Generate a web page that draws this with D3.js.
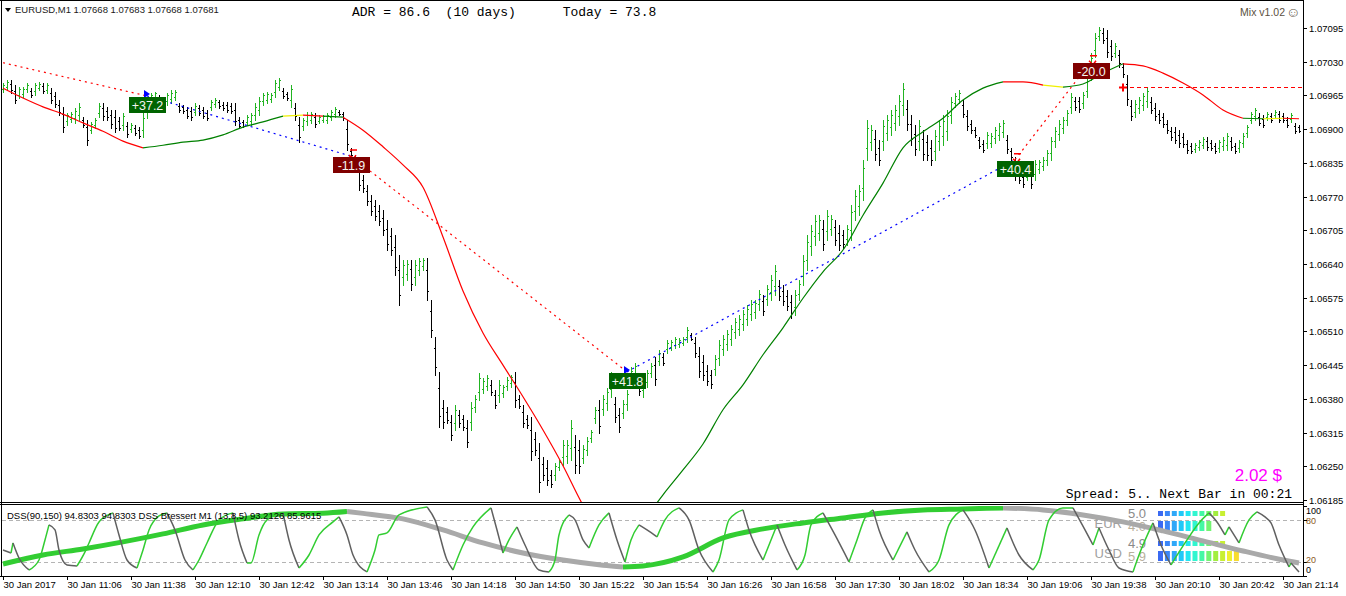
<!DOCTYPE html>
<html><head><meta charset="utf-8">
<script src="https://cdn.jsdelivr.net/npm/d3@7"></script>
<style>
body{margin:0;background:#fff;}
svg{display:block;}
text{font-family:"Liberation Sans",Arial,sans-serif;}
.mono{font-family:"Liberation Mono","Courier New",monospace;white-space:pre;}
</style></head><body>
<svg id="c" width="1346" height="596"></svg>
<script>
// ---------------- DATA ----------------
const symbolTitle = "EURUSD,M1  1.07668 1.07683 1.07668 1.07681";
const adrText = "ADR = 86.6  (10 days)      Today = 73.8";
const spreadText = "Spread: 5.. Next Bar in 00:21";
const profitText = "2.02 $";
const versionText = "Mix v1.02";
const dssLabel = "DSS(90,150) 94.8303 94.8303  DSS Bressert M1 (13,8,5) 93.2126 85.9615";

const startTime = [2017, 0, 30, 10, 34];   // 30 Jan 2017 10:34
const barStepMinutes = 2;
const priceBase = 1.06;                      // bar prices in points above 1.06000
const barHigh = [
989,995,995,985,981,981,989,979,989,991, 989,989,979,972,956,943,931,933,941,950,
923,918,914,922,950,950,943,937,937,923, 931,914,912,908,904,931,956,970,972,966,
962,970,975,975,950,947,943,943,950,947, 943,937,956,960,956,952,952,950,950,923,
918,927,931,950,962,970,972,970,995,999, 979,972,985,950,923,922,933,933,931,927,
927,931,937,943,937,933,918,864,850,831, 812,792,773,763,754,744,725,709,696,657,
648,648,648,648,652,652,652,571,499,432, 378,364,349,368,359,349,339,374,387,430,
420,426,416,397,416,407,422,426,432,387, 368,349,345,316,295,268,262,243,256,262,
301,301,339,310,301,291,306,320,364,378, 387,401,432,384,362,378,397,441,449,426,
430,436,449,461,474,468,493,493,499,497, 499,519,507,499,480,465,445,436,465,493,
503,513,522,536,542,551,561,571,571,590, 580,600,619,638,609,600,590,580,590,609,
657,696,715,734,734,725,744,734,725,715, 706,715,754,783,792,841,918,908,898,879,
918,927,937,947,966,989,956,927,908,918, 898,889,879,898,918,927,937,962,970,975,
956,937,918,904,885,879,894,893,904,912, 918,889,864,846,821,815,821,827,841,841,
846,860,885,904,918,923,937,970,962,962, 972,1001,1047,1085,1097,1095,1091,1072,1066,1053,
1028,1004,956,956,962,970,981,962,950,937, 931,918,904,904,898,893,879,873,873,879,
885,885,879,873,879,885,893,885,873,879, 893,908,933,941,931,927,933,931,937,935,
931,923,931,912,908];
const barLow = [
972,975,970,950,960,962,972,962,966,975, 970,970,950,943,927,894,908,914,912,918,
904,869,893,902,923,918,918,902,894,898, 898,885,894,889,883,885,922,950,956,941,
941,947,950,956,933,931,922,918,927,927, 922,918,937,943,941,937,933,931,908,902,
904,908,908,918,927,947,950,952,962,975, 960,956,943,918,875,898,908,912,904,912,
914,912,918,923,927,918,860,846,821,783, 779,754,734,725,715,696,667,657,619,561,
600,609,590,600,619,628,571,499,426,326, 324,333,301,320,326,320,287,320,355,378,
391,397,387,362,374,384,397,403,364,362, 326,324,262,272,200,224,214,210,224,243,
253,256,262,237,237,256,272,297,333,314, 349,359,384,335,316,343,359,403,416,387,
384,403,422,407,445,445,468,474,478,480, 484,490,493,461,422,416,407,401,426,445,
465,474,484,497,503,513,522,532,536,551, 542,561,571,580,571,561,551,536,542,571,
600,628,657,677,686,667,686,696,677,667, 671,677,686,725,734,763,841,860,841,831,
860,879,889,898,908,927,898,869,850,860, 841,841,831,841,860,869,879,912,943,950,
923,898,893,885,864,856,864,866,873,879, 885,854,841,802,796,788,802,787,802,815,
821,831,841,866,879,893,908,931,937,933, 941,962,995,1039,1072,1066,1039,1033,1039,1020,
1001,947,918,923,931,937,943,931,918,912, 904,893,879,873,866,866,854,854,856,860,
864,860,860,854,856,860,860,860,854,856, 866,885,912,918,908,904,918,914,922,914,
914,904,914,893,894];

// moving average (points above 1.06000), every 10 minutes, last at 648
const maMinutes = d3.range(0, 641, 10).concat([648]);
const maValues = [979,960,943,929,912,896,877,864,869,875,879,889,904,914,925,927,925,923,898,866,
831,788,692,588,507,445,384,320,251,175,117,92,143,195,243,293,359,407,465,517,
574,625,667,734,796,864,895,921,956,979,991,991,985,981,987,1008,1026,1022,1008,989,
966,937,921,920,921,920];
const maState = "rrrrrrr"+"ggggggg"+"y"+"r"+"g"+"rrrrrrrrrrrrr"+"r"+"g"+"gggggggggggggggggg"+"rr"+"y"+"ggg"+"r"+"rrrrr"+"g"+"y"+"r";

// trades: minutes & price points
const tradeMinutes = [0, 72, 174, 312, 506, 544];
const tradePrices  = [1028, 964, 848, 432, 841, 1030];
const tradeSide    = ["sell", "buy", "sell", "buy", "sell"];
const tradeResults = ["+37.2", "-11.9", "+41.8", "+40.4", "-20.0"];
const openMinute = 560, openPrice = 982;

const priceTicks = [1.07095,1.07030,1.06965,1.06900,1.06835,1.06770,1.06705,1.06640,1.06575,1.06510,1.06445,1.06380,1.06315,1.06250,1.06185];
const timeTickMinutes = d3.range(0, 641, 32);
const timeTickLabels = ["30 Jan 2017","30 Jan 11:06","30 Jan 11:38","30 Jan 12:10","30 Jan 12:42","30 Jan 13:14","30 Jan 13:46","30 Jan 14:18","30 Jan 14:50","30 Jan 15:22","30 Jan 15:54","30 Jan 16:26","30 Jan 16:58","30 Jan 17:30","30 Jan 18:02","30 Jan 18:34","30 Jan 19:06","30 Jan 19:38","30 Jan 20:10","30 Jan 20:42","30 Jan 21:14"];

// DSS(90,150) slow line
const slowMinutes = [0,20,40,60,80,100,120,140,160,172,180,200,220,240,260,280,300,310,320,340,360,380,400,420,440,460,480,500,520,540,560,580,600,620,640,648];
const slowValues = [16.7,29.6,38.3,48.4,59.9,72.8,81.5,88.6,89.6,92.0,89.4,81.5,65.6,46.9,32.5,22.4,15.0,12.4,13.8,26.8,54.1,67.1,75.7,82.9,90.1,94.4,95.8,97.3,94.4,87.2,77.2,64.2,49.8,35.4,22.4,18.1];

// DSS Bressert fast line
const fastMinutes = [0,4,5,8,13,18,21,23,26,28, 32,37,41,43,48,55,58,62,67,70, 73,78,82,86,91,95,98,102,108,115,
118,122,124,128,132,140,143,148,153,158, 165,168,172,175,182,186,188,192,198,212, 216,222,225,230,235,244,247,250,253,257,
261,268,273,276,278,283,286,290,293,298, 303,307,311,314,318,322,327,331,338,343, 348,355,358,363,370,373,380,387,391,397,
401,404,410,416,423,427,431,435,438,445, 452,456,463,468,473,480,486,493,502,508, 515,518,523,530,535,541,545,548,553,558,
565,568,575,579,584,591,598,603,607,611, 613,618,623,627,631,634,638,643,644,648];
const fastValues = [36.8,32.5,46.9,25.3,8.1,22.4,51.2,72.8,65.6,36.8, 15.3,13.8,34,46.9,77.1,90.1,58.4,22.4,10.9,36.8,
65.6,85.8,90.1,65.6,22.4,8.1,22.4,46.9,80,90.1, 51.2,18.1,18.1,58.4,80,90.1,51.2,10.9,29.6,58.4,
77.1,84.3,58.4,29.6,5.2,36.8,58.4,61.3,87.2,98.7, 80,22.4,8.1,44,69.9,97.3,65.6,32.5,51.2,69.9,
44,8.1,5.2,22.4,58.4,87.2,80,51.2,39.7,72.8, 90.1,51.2,19.6,51.2,72.8,65.6,55.5,80,97.3,80,
36.8,5.2,22.4,80,94.4,65.6,22.4,72.8,44,8.1, 29.6,72.8,90.1,58.4,19.6,51.2,82.9,94.4,65.6,22.4,
62.8,36.8,5.2,22.4,72.8,94.4,65.6,10.9,68.5,29.6, 8.1,22.4,80,97.3,97.3,65.6,44,68.5,36.8,10.9,
5.2,29.6,75.7,44,15.3,46.9,75.7,90.1,77.1,58.4, 69.9,46.9,80,91.5,84.3,75.7,44,12.4,18.1,5.2];

const levelTicks = [100, 80, 20, 0];
const levelLines = [80, 20];

// currency strength
const currencies = ["EUR", "USD"];
const strengthA = [5.0, 4.9];
const strengthB = [4.0, 5.9];

// ---------------- LAYOUT ----------------
const svg = d3.select("#c");
const axisX = 1303, leftX = 1, mainTop = 1, mainBot = 502, indTop = 505, indBot = 576;
const t0 = new Date(startTime[0], startTime[1], startTime[2], startTime[3], startTime[4]);
const T = m => new Date(t0.getTime() + m * 60000);
const x = d3.scaleTime().domain([T(0), T(650)]).range([3, 1303]);
const y = d3.scaleLinear().domain([priceTicks[priceTicks.length - 1], priceTicks[0]]).range([500, 28]);
const P = pts => priceBase + pts / 1e5;
const yi = d3.scaleLinear().domain([0, 100]).range([575.6, 506]);

const defs = svg.append("defs");
defs.append("clipPath").attr("id", "cm").append("rect").attr("x", leftX + 1).attr("y", mainTop).attr("width", axisX - leftX - 1).attr("height", mainBot - mainTop);
defs.append("clipPath").attr("id", "ci").append("rect").attr("x", leftX + 1).attr("y", indTop + 1).attr("width", axisX - leftX - 1).attr("height", indBot - indTop - 1);

const gMain = svg.append("g").attr("clip-path", "url(#cm)");
const gInd = svg.append("g").attr("clip-path", "url(#ci)");

// ---------------- MAIN PANEL ----------------
const barUp = "#22b422", barDown = "#000";
const gb = gMain.append("g").attr("shape-rendering", "crispEdges");
barHigh.forEach((h, i) => {
  const l = barLow[i];
  const mid = (h + l) / 2;
  const prevMid = i ? (barHigh[i - 1] + barLow[i - 1]) / 2 : mid;
  const up = mid >= prevMid;
  const xp = Math.round(x(T(i * barStepMinutes))) + 0.5;
  const yh = Math.round(y(P(h))), yl = Math.round(y(P(l)));
  const col = up ? barUp : barDown;
  const o = up ? l + (h - l) * 0.3 : h - (h - l) * 0.3;
  const c = up ? h - (h - l) * 0.2 : l + (h - l) * 0.2;
  const yo_ = Math.round(y(P(o))) + 0.5, yc_ = Math.round(y(P(c))) + 0.5;
  gb.append("path").attr("d", `M${xp},${yh}V${yl + 1}M${xp - 1.5},${yo_}H${xp}M${xp},${yc_}H${xp + 1.5}`)
    .attr("stroke", col).attr("stroke-width", 1).attr("fill", "none");
});

// colored runs helper
function drawRuns(g, times, vals, ys, colorAt, width, curve) {
  let start = 0;
  for (let i = 0; i < vals.length - 1; i++) {
    const c = colorAt(i);
    const last = i === vals.length - 2 || colorAt(i + 1) !== c;
    if (last) {
      const pts = d3.range(start, i + 2).map(k => [x(T(times[k])), ys(vals[k])]);
      g.append("path").attr("d", d3.line().curve(curve)(pts)).attr("fill", "none")
        .attr("stroke", c).attr("stroke-width", width).attr("stroke-linejoin", "round");
      start = i + 1;
    }
  }
}

// moving average
const maCol = { r: "#ff0000", g: "#008000", y: "#f0f000" };
drawRuns(gMain, maMinutes, maValues, v => y(P(v)), i => maCol[maState[i]], 1.2, d3.curveMonotoneX);

// trade lines
const gt = gMain.append("g");
for (let i = 0; i < tradeMinutes.length - 1; i++) {
  gt.append("line")
    .attr("x1", x(T(tradeMinutes[i]))).attr("y1", y(P(tradePrices[i])))
    .attr("x2", x(T(tradeMinutes[i + 1]))).attr("y2", y(P(tradePrices[i + 1])))
    .attr("stroke", tradeSide[i] === "buy" ? "#0000ff" : "#ff0000")
    .attr("stroke-width", 1.2).attr("stroke-dasharray", "2,4");
}
// open position line
const yo = Math.round(y(P(openPrice))) + 0.5;
gt.append("line").attr("x1", x(T(openMinute))).attr("x2", axisX).attr("y1", yo).attr("y2", yo)
  .attr("stroke", "#ff0000").attr("stroke-dasharray", "4,3");
const xo = x(T(openMinute));
gt.append("path").attr("d", `M${xo - 4},${yo}H${xo + 4}M${xo},${yo - 4}V${yo + 4}`).attr("stroke", "#ff0000").attr("stroke-width", 2);

// markers at trade points
for (let i = 1; i < tradeMinutes.length; i++) {
  const px = x(T(tradeMinutes[i])), py = y(P(tradePrices[i]));
  if (i === 1 || i === 3) {
    gt.append("path").attr("d", `M${px - 3},${py - 6}L${px + 3},${py - 2}L${px - 3},${py + 2}Z`).attr("fill", "#0000ff");
  } else {
    gt.append("path").attr("d", `M${px - 1},${py - 6}H${px + 6}M${px - 2},${py - 1}L${px + 2},${py + 3}L${px + 5},${py - 1}`)
      .attr("stroke", "#ff0000").attr("stroke-width", 1.5).attr("fill", "none");
  }
}
// result labels
const gl = gMain.append("g");
tradeResults.forEach((r, k) => {
  const i = k + 1;
  const px = x(T(tradeMinutes[i])), py = y(P(tradePrices[i]));
  const pos = r[0] === "+";
  const w = r.length > 4 ? 37 : 34;
  gl.append("rect").attr("x", Math.round(px - 18)).attr("y", Math.round(py + 1)).attr("width", w).attr("height", 16)
    .attr("fill", pos ? "#006400" : "#800000");
  gl.append("text").attr("x", Math.round(px - 18) + w / 2).attr("y", Math.round(py + 1) + 12.5)
    .attr("text-anchor", "middle").attr("font-size", 12.5).attr("fill", "#f4f4f0").text(r);
});

// texts on main panel
svg.append("path").attr("d", "M5,8H11L8,12Z").attr("fill", "#000");
svg.append("text").attr("x", 15).attr("y", 13).attr("font-size", 9.5).attr("fill", "#1a1a1a").text(symbolTitle);
svg.append("text").attr("class", "mono").attr("x", 352).attr("y", 16).attr("font-size", 13).attr("fill", "#000").text(adrText);
svg.append("text").attr("x", 1285).attr("y", 16).attr("text-anchor", "end").attr("font-size", 10.5).attr("fill", "#5a5040").text(versionText);
svg.append("text").attr("x", 1286).attr("y", 17).attr("font-size", 14).attr("fill", "#5a5040").attr("font-family", "DejaVu Sans").text("\u263A");
svg.append("text").attr("x", 1282).attr("y", 481).attr("text-anchor", "end").attr("font-size", 17).attr("fill", "#ff00ff").text(profitText);
svg.append("text").attr("class", "mono").attr("x", 1292).attr("y", 498).attr("text-anchor", "end").attr("font-size", 13).attr("fill", "#000").text(spreadText);

// ---------------- INDICATOR PANEL ----------------
svg.append("text").attr("x", 7).attr("y", 518.5).attr("font-size", 9.5).attr("fill", "#000").text(dssLabel);
gInd.selectAll("line.lvl").data(levelLines).join("line").attr("class", "lvl")
  .attr("x1", leftX + 1).attr("x2", axisX).attr("y1", d => Math.round(yi(d)) + 0.5).attr("y2", d => Math.round(yi(d)) + 0.5)
  .attr("stroke", "#b4b4b4").attr("stroke-dasharray", "4,3").attr("shape-rendering", "crispEdges");

// currency strength blocks
const blockColors = ["#3a6af2","#3b86f7","#2fa8f8","#20c8f8","#22e6f2","#30f6d0","#44f8a4","#72f470","#a2ee40","#c8f032","#eef030","#f8dc30"];
const bx = d3.scaleLinear().domain([0, 12]).range([1158, 1158 + 12 * 6.9]);
const rowsA = [511, 541], rowsB = [521, 551];
currencies.forEach((cur, k) => {
  const nA = Math.round(strengthA[k] * 2), nB = Math.round(strengthB[k] * 2);
  d3.range(nA).forEach(j => gInd.append("rect").attr("x", bx(j)).attr("y", rowsA[k]).attr("width", 5).attr("height", 5).attr("fill", blockColors[j]));
  d3.range(nB).forEach(j => gInd.append("rect").attr("x", bx(j)).attr("y", rowsB[k]).attr("width", 5).attr("height", 10).attr("fill", blockColors[j]));
  gInd.append("text").attr("x", 1146).attr("y", rowsA[k] + 7).attr("text-anchor", "end").attr("font-size", 13).attr("fill", "#8a8a8a").text(strengthA[k].toFixed(1));
  gInd.append("text").attr("x", 1146).attr("y", rowsB[k] + 9.5).attr("text-anchor", "end").attr("font-size", 13).attr("fill", "#b8b09c").text(strengthB[k].toFixed(1));
  gInd.append("text").attr("x", 1122).attr("y", rowsA[k] + 17).attr("text-anchor", "end").attr("font-size", 13).attr("fill", "#a0a0a0").text(cur);
});

// slow DSS thick line
drawRuns(gInd, slowMinutes, slowValues, yi, i => slowValues[i + 1] >= slowValues[i] ? "#32cd32" : "#a9a9a9", 5, d3.curveMonotoneX);
// fast DSS
drawRuns(gInd, fastMinutes, fastValues, yi, i => fastValues[i + 1] >= fastValues[i] ? "#32cd32" : "#606060", 1.5, d3.curveMonotoneX);

// ---------------- FRAME & AXES ----------------
const gf = svg.append("g").attr("shape-rendering", "crispEdges").attr("stroke", "#000");
gf.append("line").attr("x1", 0).attr("x2", axisX).attr("y1", 0.5).attr("y2", 0.5);
gf.append("line").attr("x1", leftX + 0.5).attr("x2", leftX + 0.5).attr("y1", 0).attr("y2", indBot);
gf.append("line").attr("x1", axisX + 0.5).attr("x2", axisX + 0.5).attr("y1", 0).attr("y2", indBot + 1);
gf.append("line").attr("x1", 0).attr("x2", axisX).attr("y1", mainBot + 0.5).attr("y2", mainBot + 0.5);
gf.append("line").attr("x1", 0).attr("x2", axisX).attr("y1", indTop - 0.5).attr("y2", indTop - 0.5);
gf.append("line").attr("x1", 0).attr("x2", axisX + 1).attr("y1", indBot + 0.5).attr("y2", indBot + 0.5);

// price axis
priceTicks.forEach(p => {
  const yy = Math.round(y(p)) + 0.5;
  gf.append("line").attr("x1", axisX).attr("x2", axisX + 4).attr("y1", yy).attr("y2", yy);
  svg.append("text").attr("x", 1309).attr("y", yy + 3.5).attr("font-size", 9.5).attr("fill", "#000").text(p.toFixed(5));
});
// indicator axis (labels nudged apart like the platform does)
const levelLabelY = { 100: 511, 80: 521, 20: 560, 0: 570 };
levelTicks.forEach(v => {
  const yy = Math.round(yi(v)) + 0.5;
  gf.append("line").attr("x1", axisX).attr("x2", axisX + 4).attr("y1", yy).attr("y2", yy);
  svg.append("text").attr("x", 1306).attr("y", levelLabelY[v] + 3.3).attr("font-size", 9)
    .attr("fill", (v === 80 || v === 20) ? "#8b5a1b" : "#000").text(v);
});
// time axis
timeTickMinutes.forEach((m, k) => {
  const xx = Math.round(x(T(m))) + 0.5;
  gf.append("line").attr("x1", xx).attr("x2", xx).attr("y1", indBot).attr("y2", indBot + 4);
  svg.append("text").attr("x", xx).attr("y", 588).attr("font-size", 9.5).attr("fill", "#000").text(timeTickLabels[k]);
});
</script></body></html>
